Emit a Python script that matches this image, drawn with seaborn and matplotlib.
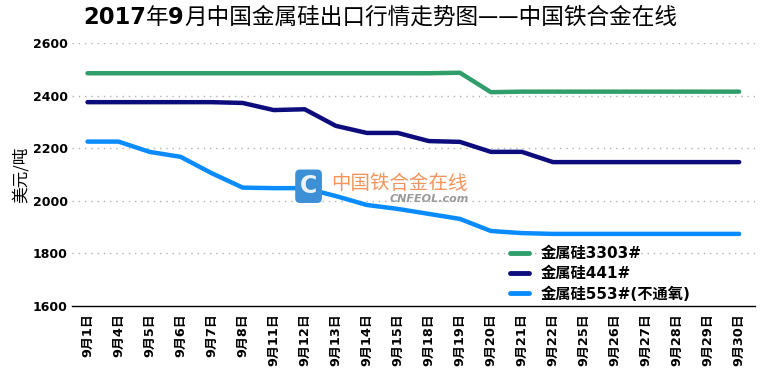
import matplotlib
matplotlib.use("Agg")
import matplotlib.pyplot as plt
import seaborn as sns
import pandas as pd
import numpy as np
from matplotlib.ticker import FixedLocator

dates = ["9月1日", "9月4日", "9月5日", "9月6日", "9月7日", "9月8日", "9月11日", "9月12日",
         "9月13日", "9月14日", "9月15日", "9月18日", "9月19日", "9月20日", "9月21日", "9月22日",
         "9月25日", "9月26日", "9月27日", "9月28日", "9月29日", "9月30日"]
s3303 = [2485, 2485, 2485, 2485, 2485, 2485, 2485, 2485, 2485, 2485, 2485, 2485, 2487, 2413,
         2415, 2415, 2415, 2415, 2415, 2415, 2415, 2415]
s441 = [2375, 2375, 2375, 2375, 2375, 2372, 2345, 2348, 2285, 2258, 2258, 2227, 2224, 2186,
        2186, 2147, 2147, 2147, 2147, 2147, 2147, 2147]
s553 = [2225, 2225, 2186, 2167, 2105, 2050, 2048, 2048, 2018, 1984, 1969, 1950, 1931, 1885,
        1877, 1874, 1874, 1874, 1874, 1874, 1874, 1874]
series_names = ["金属硅3303#", "金属硅441#", "金属硅553#(不通氧)"]
colors = ["#2f9e6a", "#0c0c7c", "#0a8cff"]
yticks = [1600, 1800, 2000, 2200, 2400, 2600]

rows = []
for name, vals in zip(series_names, [s3303, s441, s553]):
    for i, v in enumerate(vals):
        rows.append({"idx": i, "price": v, "series": name})
df = pd.DataFrame(rows)

sns.set_theme(style="white")
plt.rcParams["font.family"] = ["DejaVu Sans", "Noto Sans CJK SC"]
plt.rcParams["text.color"] = "black"
plt.rcParams["xtick.color"] = "black"
plt.rcParams["ytick.color"] = "black"
plt.rcParams["axes.labelcolor"] = "black"

fig = plt.figure(figsize=(7.6, 3.74), dpi=100)
ax = fig.add_axes([0.0947, 0.182, 0.8983, 0.703])

sns.lineplot(data=df, x="idx", y="price", hue="series", hue_order=series_names,
             palette=colors, linewidth=3.2, sort=False, ax=ax, legend=True)
for ln in ax.lines:
    ln.set_solid_joinstyle("round")
    ln.set_solid_capstyle("round")

n = len(dates)
ax.set_xlim(-0.5, n - 0.5)
ax.set_ylim(1600, 2600)
ax.set_yticks(yticks)
ax.set_yticklabels([str(t) for t in yticks], fontsize=9, fontweight="bold",
                   family=["DejaVu Sans"])
ax.set_xticks(range(n))
ax.set_xticklabels(dates, rotation=90, fontsize=9.3, fontweight="bold",
                   family=["DejaVu Sans", "Noto Sans CJK SC"])
ax.xaxis.set_minor_locator(FixedLocator(np.arange(-0.5, n, 1.0)))
ax.tick_params(axis="x", which="major", length=0, pad=5)
ax.tick_params(axis="x", which="minor", length=5, width=1, color="black", direction="out")
ax.tick_params(axis="y", length=0, pad=3)
ax.set_xlabel("")
ax.set_ylabel("美元/吨", family=["Noto Sans CJK SC", "DejaVu Sans"], fontsize=12, labelpad=2)

for t in yticks[1:]:
    ax.axhline(t, color="#b0b0b0", linestyle=(0, (1, 3.5)), linewidth=1, zorder=0)
for side in ["top", "right", "left"]:
    ax.spines[side].set_visible(False)
ax.spines["bottom"].set_color("black")
ax.spines["bottom"].set_linewidth(1)

leg = ax.legend(loc="upper left", bbox_to_anchor=(0.632, 0.25), frameon=False,
                handlelength=1.3, labelspacing=0.32, borderaxespad=0, handletextpad=0.75,
                prop={"family": ["DejaVu Sans", "Noto Sans CJK SC"], "size": 11, "weight": "bold"})
for h in leg.get_lines():
    h.set_linewidth(3.5)

# watermark
fig.text(0.406, 0.502, "C", fontsize=17, fontweight="bold", color="white", ha="center",
         va="center", bbox=dict(boxstyle="round,pad=0.2", fc="#3d8fd6", ec="none"), alpha=0.9)
fig.text(0.436, 0.51, "中国铁合金在线", fontsize=14, color="#f08a4b", ha="left", va="center",
         family=["Noto Sans CJK SC"], alpha=0.9)
fig.text(0.513, 0.468, "CNFEOL.com", fontsize=8, color="#9a9a9a", ha="left", va="center",
         style="italic", fontweight="bold")

# title built from pieces: digits bold, CJK regular
pieces = [("2017", "bold"), ("年", "normal"), ("9", "bold"),
          ("月中国金属硅出口行情走势图——中国铁合金在线", "normal")]
prev = fig.text(0.109, 0.953, pieces[0][0], fontsize=16.3, fontweight=pieces[0][1],
                family=["DejaVu Sans"], ha="left", va="center")
for txt, wt in pieces[1:]:
    prev = ax.annotate(txt, xy=(1, 0.5), xycoords=prev, ha="left", va="center",
                       fontsize=16.3, fontweight=wt,
                       family=["Noto Sans CJK SC", "DejaVu Sans"] if wt == "normal" else ["DejaVu Sans"],
                       annotation_clip=False)

fig.savefig("out.png", dpi=100)
